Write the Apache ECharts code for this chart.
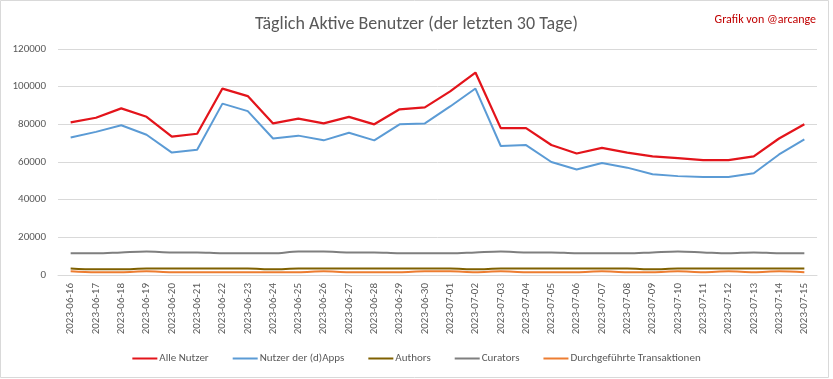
<!DOCTYPE html>
<html><head><meta charset="utf-8">
<script src="https://cdn.jsdelivr.net/npm/echarts@6/dist/echarts.min.js"></script>
<style>html,body{margin:0;padding:0;background:#fff}#c{width:833px;height:379px}</style>
</head><body><div id="c"></div>
<script>
const categories = ["2023-06-16","2023-06-17","2023-06-18","2023-06-19","2023-06-20","2023-06-21","2023-06-22","2023-06-23","2023-06-24","2023-06-25","2023-06-26","2023-06-27","2023-06-28","2023-06-29","2023-06-30","2023-07-01","2023-07-02","2023-07-03","2023-07-04","2023-07-05","2023-07-06","2023-07-07","2023-07-08","2023-07-09","2023-07-10","2023-07-11","2023-07-12","2023-07-13","2023-07-14","2023-07-15"];
const alleNutzer = [81000,83500,88500,84000,73500,75000,99000,95000,80500,83000,80500,84000,80000,88000,89000,97500,107500,78000,78000,69000,64500,67500,65000,63000,62000,61000,61000,63000,72500,80000];
const dappsNutzer = [73000,76000,79500,74500,65000,66500,91000,87000,72500,74000,71500,75500,71500,80000,80500,89500,99000,68500,69000,60000,56000,59500,57000,53500,52500,52000,52000,54000,64000,72000];
const authors = [3500,3000,3000,3500,3500,3500,3500,3500,3000,3500,3500,3500,3500,3500,3500,3500,3000,3500,3500,3500,3500,3500,3500,3000,3500,3500,3500,3500,3500,3500];
const curators = [11500,11500,12000,12500,12000,12000,11500,11500,11500,12500,12500,12000,12000,11500,11500,11500,12000,12500,12000,12000,11500,11500,11500,12000,12500,12000,11500,12000,11500,11500];
const transaktionen = [2000,1500,1500,2000,1500,1500,1500,1500,1500,1500,2000,1500,1500,1500,2000,2000,1500,2000,1500,1500,1500,2000,1500,1500,2000,1500,2000,1500,2000,1500];
const yTicks = [0,20000,40000,60000,80000,100000,120000];

const font = 'Carlito, "Open Sans", "Liberation Sans", sans-serif';
const chart = echarts.init(document.getElementById('c'));
const mk = (name, data, color, width, smooth) => ({
  name, type: 'line', data, symbol: 'none', smooth: smooth ? 0.35 : false,
  lineStyle: {color, width}, itemStyle: {color}
});
chart.setOption({
  animation: false,
  backgroundColor: '#fff',
  graphic: [{type: 'rect', shape: {x: 0.5, y: 0.5, width: 828, height: 377}, style: {fill: 'none', stroke: '#d9d9d9', lineWidth: 1}, silent: true}],
  title: [
    {text: 'Täglich Aktive Benutzer (der letzten 30 Tage)', left: 'center', top: 10, textStyle: {fontFamily: font, fontSize: 18, fontWeight: 'normal', color: '#595959'}},
    {text: 'Grafik von @arcange', right: 12, top: 9, textStyle: {fontFamily: font, fontSize: 12, fontWeight: 'normal', color: '#c00000'}}
  ],
  legend: {
    bottom: 10, left: 'center', itemWidth: 25, itemHeight: 2, itemGap: 24,
    icon: 'rect',
    textStyle: {fontFamily: font, fontSize: 11, color: '#595959', padding: [0, 0, 0, -3]},
    data: ['Alle Nutzer','Nutzer der (d)Apps','Authors','Curators','Durchgeführte Transaktionen']
  },
  grid: {left: 58, right: 16, top: 49, bottom: 104},
  xAxis: {
    type: 'category', data: categories, boundaryGap: true,
    axisLine: {lineStyle: {color: '#d9d9d9'}}, axisTick: {show: false},
    axisLabel: {rotate: 90, interval: 0, fontFamily: font, fontSize: 11, color: '#595959', margin: 8}
  },
  yAxis: {
    type: 'value', min: 0, max: 120000, interval: 20000,
    axisLine: {show: false}, axisTick: {show: false},
    splitLine: {lineStyle: {color: '#d9d9d9'}},
    axisLabel: {fontFamily: font, fontSize: 11, color: '#595959', margin: 12,
      formatter: v => yTicks.includes(v) ? String(v) : ''}
  },
  series: [
    mk('Durchgeführte Transaktionen', transaktionen, '#ed7d31', 2, true),
    mk('Curators', curators, '#7f7f7f', 2, true),
    mk('Authors', authors, '#7f6000', 2, true),
    mk('Nutzer der (d)Apps', dappsNutzer, '#5b9bd5', 2, false),
    mk('Alle Nutzer', alleNutzer, '#e3141b', 2.25, false)
  ]
});
</script></body></html>
